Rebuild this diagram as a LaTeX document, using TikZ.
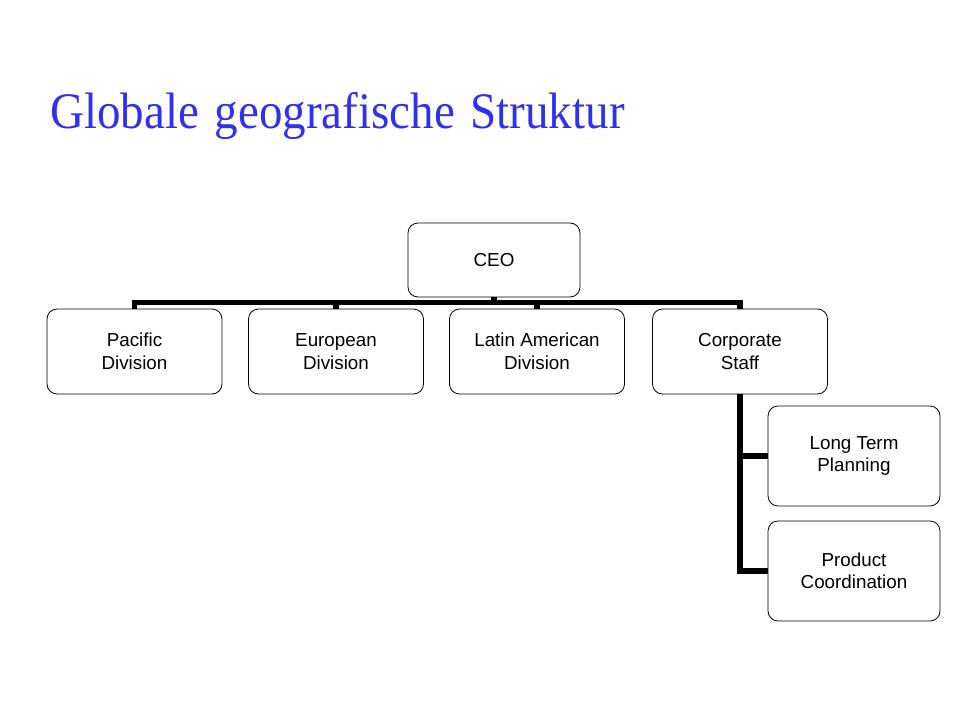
\documentclass[tikz,border=0pt]{standalone}
\usepackage{graphicx}
\usepackage{fontspec}
\setmainfont{Liberation Serif}
\newfontfamily\boxfont{Liberation Sans}
\definecolor{titleblue}{RGB}{48,48,240}
\tikzset{
  orgbox/.style={draw=black, line width=0.8pt, rounded corners=10pt, align=center,
    inner sep=0pt, font=\boxfont\fontsize{18.8}{22.5}\selectfont},
  conn/.style={draw=black, line width=5.5pt, line join=miter, line cap=butt}
}
\begin{document}
\begin{tikzpicture}[x=1pt,y=-1pt]
\useasboundingbox (0,0) rectangle (960,720);
\node[anchor=base west, text=titleblue, inner sep=0pt,
      font=\fontsize{47}{50}\selectfont] (title) at (50,128)
      {\scalebox{1}[1.09]{Globale\hspace{4pt} geografische\hspace{4pt} Struktur}};

\node[orgbox, minimum width=172pt, minimum height=74pt] (ceo) at (494,260) {CEO};
\node[orgbox, minimum width=175pt, minimum height=85pt] (pac) at (134.5,351.5) {Pacific\\Division};
\node[orgbox, minimum width=175pt, minimum height=85pt] (eur) at (336,351.5) {European\\Division};
\node[orgbox, minimum width=175pt, minimum height=85pt] (lat) at (537,351.5) {Latin American\\Division};
\node[orgbox, minimum width=175pt, minimum height=85pt] (corp) at (740,351.5) {Corporate\\Staff};
\node[orgbox, minimum width=172pt, minimum height=100pt] (ltp) at (854,456) {Long Term\\Planning};
\node[orgbox, minimum width=172pt, minimum height=100pt] (pc) at (854,571) {Product\\Coordination};

\draw[conn] (pac.north) -- ++(0,-6) -| (corp.north);
\draw[conn] (eur.north) -- ++(0,-6);
\draw[conn] (lat.north) -- ++(0,-6);
\draw[conn] (ceo.south) -- ++(0,6);
\draw[conn] (corp.south) |- (ltp.west);
\draw[conn] (corp.south) |- (pc.west);
\end{tikzpicture}
\end{document}
